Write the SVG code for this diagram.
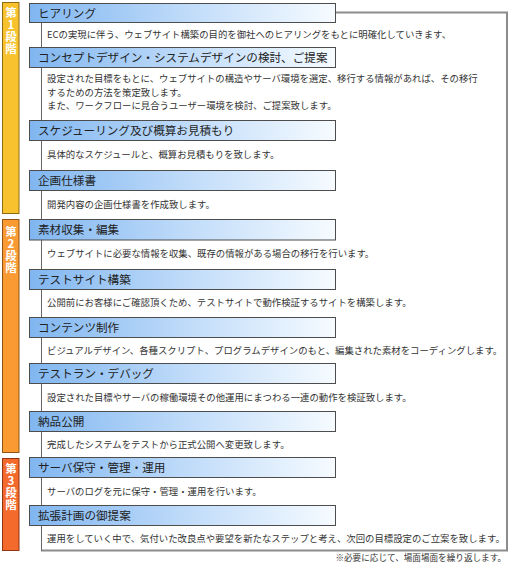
<svg xmlns="http://www.w3.org/2000/svg" width="510" height="564" viewBox="0 0 510 564">
<defs>
<linearGradient id="hg" x1="0" y1="0" x2="1" y2="0">
<stop offset="0" stop-color="#80b6f0"/>
<stop offset="0.55" stop-color="#c4defa"/>
<stop offset="1" stop-color="#f6fbff"/>
</linearGradient>
<style>
.hd{fill:url(#hg);stroke:#4d4d4d;stroke-width:1}
.ht{font-family:"Noto Sans CJK JP","Noto Sans CJK SC",sans-serif;font-size:11.6px;fill:#222}
.bt{font-family:"Noto Sans CJK JP","Noto Sans CJK SC",sans-serif;font-size:9.4px;fill:#333}
.st{font-family:"Noto Sans CJK JP","Noto Sans CJK SC",sans-serif;font-size:11.5px;font-weight:bold;fill:#fff;writing-mode:vertical-rl;text-orientation:upright;letter-spacing:0.3px}
.fn{font-family:"Noto Sans CJK JP","Noto Sans CJK SC",sans-serif;font-size:8.6px;fill:#333;text-anchor:end}
</style>
</defs>
<rect width="510" height="564" fill="#fff"/>
<g id="frame">
<path d="M41 12.5 H507 V550.5 H41" fill="#fff" stroke="#8c8c8c" stroke-width="2"/>
<line x1="41.5" y1="12" x2="41.5" y2="551" stroke="#666" stroke-width="1"/>
</g>
<g id="stage1">
<rect x="2.5" y="2.5" width="16.5" height="211" fill="#f7c22e" stroke="#8f6c12" stroke-width="1"/>
<text class="st" x="11" y="7">第1段階</text>
</g>
<g id="stage2">
<rect x="2.5" y="219.5" width="16.5" height="233" fill="#f99a33" stroke="#8f5212" stroke-width="1"/>
<text class="st" x="11" y="226">第2段階</text>
</g>
<g id="stage3">
<rect x="2.5" y="458.5" width="16.5" height="92" fill="#f4692c" stroke="#8f3512" stroke-width="1"/>
<text class="st" x="11" y="463">第3段階</text>
</g>
<g id="connectors"/>
<g id="n1">
<rect class="hd" x="29.5" y="3.5" width="306" height="19"/>
<text class="ht" x="38" y="17.5">ヒアリング</text>
<text class="bt" x="47" y="38">ECの実現に伴う、ウェブサイト構築の目的を御社へのヒアリングをもとに明確化していきます、</text>
</g>
<g id="n2">
<rect class="hd" x="29.5" y="47.5" width="306" height="20"/>
<text class="ht" x="38" y="62">コンセプトデザイン・システムデザインの検討、ご提案</text>
<text class="bt" x="47" y="82"><tspan x="47" y="82">設定された目標をもとに、ウェブサイトの構造やサーバ環境を選定、移行する情報があれば、その移行</tspan><tspan x="47" y="95.7">するための方法を策定致します。</tspan><tspan x="47" y="109.4">また、ワークフローに見合うユーザー環境を検討、ご提案致します。</tspan></text>
</g>
<g id="n3">
<rect class="hd" x="29.5" y="120.5" width="306" height="20"/>
<text class="ht" x="38" y="135">スケジューリング及び概算お見積もり</text>
<text class="bt" x="47" y="158">具体的なスケジュールと、概算お見積もりを致します。</text>
</g>
<g id="n4">
<rect class="hd" x="29.5" y="170.5" width="306" height="20"/>
<text class="ht" x="38" y="185">企画仕様書</text>
<text class="bt" x="47" y="207.5">開発内容の企画仕様書を作成致します。</text>
</g>
<g id="n5">
<rect class="hd" x="29.5" y="219.5" width="306" height="20.5"/>
<text class="ht" x="38" y="234">素材収集・編集</text>
<text class="bt" x="47" y="257">ウェブサイトに必要な情報を収集、既存の情報がある場合の移行を行います。</text>
</g>
<g id="n6">
<rect class="hd" x="29.5" y="269.5" width="306" height="20"/>
<text class="ht" x="38" y="284">テストサイト構築</text>
<text class="bt" x="47" y="305.5">公開前にお客様にご確認頂くため、テストサイトで動作検証するサイトを構築します。</text>
</g>
<g id="n7">
<rect class="hd" x="29.5" y="317.5" width="306" height="20"/>
<text class="ht" x="38" y="332">コンテンツ制作</text>
<text class="bt" x="47" y="353.5">ビジュアルデザイン、各種スクリプト、プログラムデザインのもと、編集された素材をコーディングします。</text>
</g>
<g id="n8">
<rect class="hd" x="29.5" y="363.5" width="306" height="20"/>
<text class="ht" x="38" y="378">テストラン・デバッグ</text>
<text class="bt" x="47" y="400.5">設定された目標やサーバの稼働環境その他運用にまつわる一連の動作を検証致します。</text>
</g>
<g id="n9">
<rect class="hd" x="29.5" y="411.5" width="306" height="20"/>
<text class="ht" x="38" y="426">納品公開</text>
<text class="bt" x="47" y="447.5">完成したシステムをテストから正式公開へ変更致します。</text>
</g>
<g id="n10">
<rect class="hd" x="29.5" y="457.5" width="306" height="20"/>
<text class="ht" x="38" y="472">サーバ保守・管理・運用</text>
<text class="bt" x="47" y="494.5">サーバのログを元に保守・管理・運用を行います。</text>
</g>
<g id="n11">
<rect class="hd" x="29.5" y="505.5" width="306" height="20"/>
<text class="ht" x="38" y="520">拡張計画の御提案</text>
<text class="bt" x="47" y="541.5">運用をしていく中で、気付いた改良点や要望を新たなステップと考え、次回の目標設定のご立案を致します。</text>
</g>
<text class="fn" x="506" y="560.5">※必要に応じて、場面場面を繰り返します。</text>
</svg>
